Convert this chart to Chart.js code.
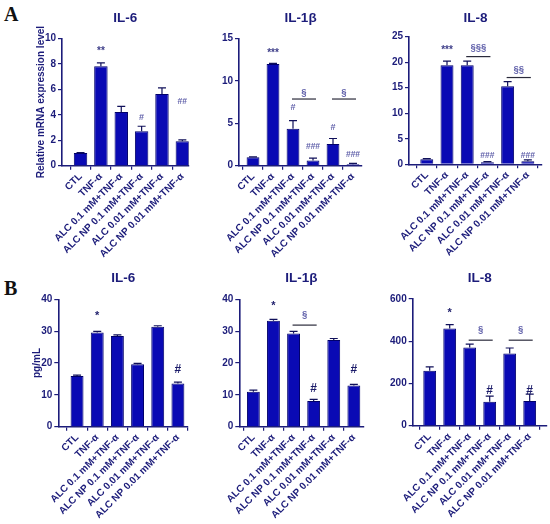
<!DOCTYPE html>
<html><head><meta charset="utf-8">
<script src="https://cdn.jsdelivr.net/npm/chart.js@4"></script>
<style>
html,body{margin:0;padding:0;background:#fff;}
#wrap{position:relative;width:550px;height:524px;overflow:hidden;background:#fff;}
canvas{position:absolute;}
.lbl{position:absolute;font-family:"Liberation Serif","DejaVu Serif",serif;font-weight:bold;font-size:20px;color:#111;line-height:1;}
</style></head><body>
<div id="wrap">
<div class="lbl" style="left:4px;top:4px">A</div>
<div class="lbl" style="left:4px;top:278px">B</div>
<canvas id="a1"></canvas><canvas id="a2"></canvas><canvas id="a3"></canvas>
<canvas id="b1"></canvas><canvas id="b2"></canvas><canvas id="b3"></canvas>
</div>
<script>
const CATEGORIES = ['CTL','TNF-α','ALC 0.1 mM+TNF-α','ALC NP 0.1 mM+TNF-α','ALC 0.01 mM+TNF-α','ALC NP 0.01 mM+TNF-α'];

// Panel A: relative mRNA expression
const A_IL6_MEAN = [1.0, 7.81, 4.22, 2.71, 5.63, 1.93];
const A_IL6_SEM  = [0.03, 0.26, 0.44, 0.39, 0.49, 0.1];
const A_IL6_MARK = ['', '**', '', '#', '', '##'];
const A_IL6_MARK_AT = [0, 9.2, 0, 3.8, 0, 5.1];
const A_IL6_BRACKETS = [];

const A_IL1B_MEAN = [1.0, 11.97, 4.36, 0.62, 2.55, 0.16];
const A_IL1B_SEM  = [0.04, 0.08, 0.94, 0.27, 0.65, 0.11];
const A_IL1B_MARK = ['', '***', '#', '###', '#', '###'];
const A_IL1B_MARK_AT = [0, 13.6, 6.87, 2.36, 4.5, 1.37];
const A_IL1B_BRACKETS = [[2, 3, 7.85, '§', 8.55], [4, 5, 7.85, '§', 8.55]];

const A_IL8_MEAN = [1.0, 19.4, 19.4, 0.4, 15.3, 0.6];
const A_IL8_SEM  = [0.1, 0.8, 0.8, 0.12, 0.9, 0.25];
const A_IL8_MARK = ['', '***', '', '###', '', '###'];
const A_IL8_MARK_AT = [0, 22.8, 0, 1.83, 0, 1.83];
const A_IL8_BRACKETS = [[2, 3, 21.1, '§§§', 22.7], [4, 5, 17.0, '§§', 18.5]];

// Panel B: protein (pg/mL)
const B_IL6_MEAN = [15.9, 29.6, 28.5, 19.6, 31.4, 13.6];
const B_IL6_SEM  = [0.3, 0.3, 0.35, 0.3, 0.3, 0.4];
const B_IL6_MARK = ['', '*', '', '', '', '#'];
const B_IL6_MARK_AT = [0, 35.6, 0, 0, 0, 18.3];
const B_IL6_BRACKETS = [];

const B_IL1B_MEAN = [11.0, 33.3, 29.3, 8.1, 27.2, 12.9];
const B_IL1B_SEM  = [0.5, 0.4, 0.6, 0.5, 0.5, 0.4];
const B_IL1B_MARK = ['', '*', '', '#', '', '#'];
const B_IL1B_MARK_AT = [0, 38.7, 0, 12.4, 0, 18.3];
const B_IL1B_BRACKETS = [[2, 3, 31.9, '§', 35]];

const B_IL8_MEAN = [260, 460, 370, 113, 342, 117];
const B_IL8_SEM  = [19, 19, 16, 27, 26, 33];
const B_IL8_MARK = ['', '*', '', '#', '', '#'];
const B_IL8_MARK_AT = [0, 546, 0, 173, 0, 173];
const B_IL8_BRACKETS = [[2, 3, 405, '§', 452], [4, 5, 405, '§', 452]];

const NAVY = '#1c1c7a';
const BAR = '#0a0ab4';
const SANS = '"Liberation Sans", Arial, sans-serif';

function build(id, g, c) {
  const cv = document.getElementById(id);
  cv.width = g.w; cv.height = g.h;
  cv.style.left = g.left + 'px'; cv.style.top = g.top + 'px';
  cv.style.width = g.w + 'px'; cv.style.height = g.h + 'px';
  const yW = g.cL - g.left, padR = g.left + g.w - g.cR, xH = g.top + g.h - g.cB;
  const tLH = 13.5 * 1.2;
  const tPadTop = g.tY - g.top - tLH / 2;
  const tPadBot = (g.cT - g.top) - tPadTop - tLH;
  const yTitlePad = c.yTitle ? (g.yTX - g.left - 6) : 0;

  const sig = {
    id: 'sig_' + id,
    afterDatasetsDraw(chart) {
      const {ctx, scales: {x, y}} = chart;
      ctx.save();
      // error bars
      ctx.strokeStyle = '#10105a'; ctx.lineWidth = 1.2;
      c.mean.forEach((m, i) => {
        const xp = x.getPixelForValue(i), y0 = y.getPixelForValue(m), y1 = y.getPixelForValue(m + c.sem[i]);
        ctx.beginPath(); ctx.moveTo(xp, y0); ctx.lineTo(xp, y1);
        ctx.moveTo(xp - 4, y1); ctx.lineTo(xp + 4, y1); ctx.stroke();
      });
      const drawText = (t, xp, yp, size, color) => {
        ctx.font = 'bold ' + size + 'px ' + SANS;
        ctx.fillStyle = color; ctx.textAlign = 'center'; ctx.textBaseline = 'alphabetic';
        const mt = ctx.measureText(t);
        ctx.fillText(t, xp, yp + (mt.actualBoundingBoxAscent - mt.actualBoundingBoxDescent) / 2);
      };
      c.marks.forEach((t, i) => {
        if (!t) return;
        const star = t[0] === '*';
        drawText(t, x.getPixelForValue(i), y.getPixelForValue(c.markAt[i]),
          star ? c.starSize : (t.length > 1 ? c.hashSize - 0.5 : c.hashSize), star ? c.starColor : c.hashColor);
      });
      c.brackets.forEach(b => {
        const x0 = x.getPixelForValue(b[0]) - 1, x1 = x.getPixelForValue(b[1]) + 3, yp = y.getPixelForValue(b[2]);
        ctx.strokeStyle = '#2a2a3a'; ctx.lineWidth = 1.2;
        ctx.beginPath(); ctx.moveTo(x0, yp); ctx.lineTo(x1, yp); ctx.stroke();
        drawText(b[3], (x0 + x1) / 2, y.getPixelForValue(b[4]), 9.5, '#6060aa');
      });
      ctx.restore();
    }
  };

  return new Chart(cv, {
    type: 'bar',
    data: {
      datasets: [{
        data: c.mean.map((v, i) => ({x: i, y: v})),
        backgroundColor: BAR, borderColor: '#00006a', borderWidth: 1,
        categoryPercentage: 1, barPercentage: c.barPct
      }]
    },
    options: {
      responsive: false, animation: false, devicePixelRatio: 1,
      layout: {padding: {left: 0, right: padR, top: 0, bottom: 0}, autoPadding: false},
      plugins: {
        legend: {display: false}, tooltip: {enabled: false},
        title: {display: true, text: c.title, fullSize: false, color: NAVY,
          font: {family: SANS, size: 13.5, weight: 'bold', lineHeight: 1.2},
          padding: {top: tPadTop, bottom: tPadBot}}
      },
      scales: {
        x: {
          type: 'linear', min: g.xmin, max: g.xmax, offset: false,
          afterBuildTicks: s => { s.ticks = CATEGORIES.map((_, i) => ({value: i})); },
          afterFit: s => { s.height = xH; },
          ticks: {autoSkip: false, minRotation: 45, maxRotation: 45, padding: 1, color: NAVY,
            font: {family: SANS, size: 10, weight: 'bold'}, callback: v => CATEGORIES[v]},
          grid: {display: true, drawOnChartArea: false, drawTicks: true, tickLength: 4, color: NAVY, lineWidth: 1.2},
          border: {display: true, color: NAVY, width: 1.6}
        },
        y: {
          min: 0, max: c.yMax,
          afterFit: s => { s.width = yW; },
          ticks: {stepSize: c.yStep, padding: 2, color: NAVY, font: {family: SANS, size: 10, weight: 'bold'}},
          grid: {display: true, drawOnChartArea: false, drawTicks: true, tickLength: 4, color: NAVY, lineWidth: 1.2},
          border: {display: true, color: NAVY, width: 1.6},
          title: {display: !!c.yTitle, text: c.yTitle || '', color: NAVY,
            font: {family: SANS, size: 10, weight: 'bold', lineHeight: 1.2}, padding: {top: yTitlePad, bottom: 0}}
        }
      }
    },
    plugins: [sig]
  });
}

const A_MARKSTYLE = {starSize: 10, hashSize: 9, starColor: '#40408a', hashColor: '#6060aa'};
const B_MARKSTYLE = {starSize: 11, hashSize: 12, starColor: '#1c1c6a', hashColor: '#1c1c6a'};

build('a1', {left: 0, top: 0, w: 192, h: 258, cL: 62, cR: 190, cT: 38.4, cB: 165.7, tY: 18, yTX: 41, xmin: -0.91, xmax: 5.31},
  Object.assign({title: 'IL-6', yTitle: 'Relative mRNA expression level', mean: A_IL6_MEAN, sem: A_IL6_SEM, marks: A_IL6_MARK, markAt: A_IL6_MARK_AT, brackets: A_IL6_BRACKETS, yMax: 10, yStep: 2, barPct: 0.66}, A_MARKSTYLE));
build('a2', {left: 190, top: 0, w: 180, h: 258, cL: 239, cR: 362, cT: 38.3, cB: 165.7, tY: 18, xmin: -0.7, xmax: 5.45},
  Object.assign({title: 'IL-1β', mean: A_IL1B_MEAN, sem: A_IL1B_SEM, marks: A_IL1B_MARK, markAt: A_IL1B_MARK_AT, brackets: A_IL1B_BRACKETS, yMax: 15, yStep: 5, barPct: 0.64}, A_MARKSTYLE));
build('a3', {left: 370, top: 0, w: 180, h: 258, cL: 409, cR: 542, cT: 36.7, cB: 164.3, tY: 18, xmin: -0.88, xmax: 5.7},
  Object.assign({title: 'IL-8', mean: A_IL8_MEAN, sem: A_IL8_SEM, marks: A_IL8_MARK, markAt: A_IL8_MARK_AT, brackets: A_IL8_BRACKETS, yMax: 25, yStep: 5, barPct: 0.64}, A_MARKSTYLE));
build('b1', {left: 0, top: 260, w: 192, h: 264, cL: 58.3, cR: 188, cT: 299.3, cB: 426.7, tY: 278, yTX: 37, xmin: -0.93, xmax: 5.5},
  Object.assign({title: 'IL-6', yTitle: 'pg/mL', mean: B_IL6_MEAN, sem: B_IL6_SEM, marks: B_IL6_MARK, markAt: B_IL6_MARK_AT, brackets: B_IL6_BRACKETS, yMax: 40, yStep: 10, barPct: 0.64}, B_MARKSTYLE));
build('b2', {left: 190, top: 260, w: 180, h: 264, cL: 239.3, cR: 363.3, cT: 299.3, cB: 426.7, tY: 278, xmin: -0.7, xmax: 5.47},
  Object.assign({title: 'IL-1β', mean: B_IL1B_MEAN, sem: B_IL1B_SEM, marks: B_IL1B_MARK, markAt: B_IL1B_MARK_AT, brackets: B_IL1B_BRACKETS, yMax: 40, yStep: 10, barPct: 0.64}, B_MARKSTYLE));
build('b3', {left: 370, top: 260, w: 180, h: 264, cL: 412.7, cR: 546.7, cT: 299, cB: 425.7, tY: 278, xmin: -0.85, xmax: 5.85},
  Object.assign({title: 'IL-8', mean: B_IL8_MEAN, sem: B_IL8_SEM, marks: B_IL8_MARK, markAt: B_IL8_MARK_AT, brackets: B_IL8_BRACKETS, yMax: 600, yStep: 200, barPct: 0.64}, B_MARKSTYLE));
</script>
</body></html>
